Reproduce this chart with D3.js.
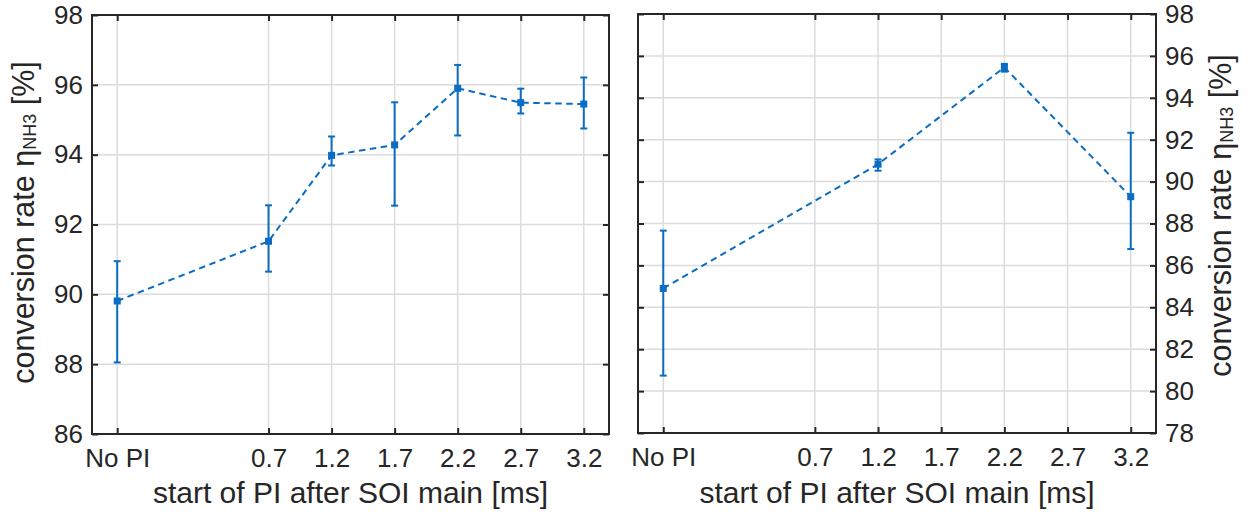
<!DOCTYPE html>
<html>
<head>
<meta charset="utf-8">
<script src="https://cdn.jsdelivr.net/npm/d3@7"></script>
<style>
  html, body { margin: 0; padding: 0; background: #fff; }
  svg { display: block; font-family: "Liberation Sans", Arial, sans-serif; }
</style>
</head>
<body>
<svg id="chart" width="1248" height="512"></svg>
<script>
// Shared x categories: start of post injection (PI) after main SOI
const tickValues = [-0.5, 0.7, 1.2, 1.7, 2.2, 2.7, 3.2];
const tickLabels = ["No PI", "0.7", "1.2", "1.7", "2.2", "2.7", "3.2"];

// Left panel: conversion rate with error bars
const leftX     = [-0.5, 0.7, 1.2, 1.7, 2.2, 2.7, 3.2];
const leftMean  = [89.81, 91.52, 93.98, 94.28, 95.90, 95.49, 95.45];
const leftLow   = [88.05, 90.65, 93.69, 92.54, 94.55, 95.18, 94.75];
const leftHigh  = [90.95, 92.55, 94.52, 95.50, 96.57, 95.89, 96.21];
const leftYTicks = [86, 88, 90, 92, 94, 96, 98];

// Right panel
const rightX    = [-0.5, 1.2, 2.2, 3.2];
const rightMean = [84.90, 90.83, 95.45, 89.28];
const rightLow  = [80.74, 90.52, 95.25, 86.78];
const rightHigh = [87.66, 91.06, 95.62, 92.33];
const rightYTicks = [78, 80, 82, 84, 86, 88, 90, 92, 94, 96, 98];

const xDomain = [-0.7, 3.4];
const ink = "#262626";
const lineColor = "#0b6cc4";
const gridColor = "#dcdcdc";
const tickFont = 26;
const labelFont = 30;
const yLabelFont = 30.5;
const tickLen = 6;

const svg = d3.select("#chart");

function drawPanel(opt) {
  const { left, right, top, bottom, yDomain, yTicks, xs, mean, low, high, yAxisSide } = opt;
  const x = d3.scaleLinear().domain(xDomain).range([left, right]);
  const y = d3.scaleLinear().domain(yDomain).range([bottom, top]);
  const g = svg.append("g");

  // grid
  g.append("g").selectAll("line").data(tickValues).join("line")
    .attr("x1", d => x(d)).attr("x2", d => x(d))
    .attr("y1", top).attr("y2", bottom)
    .attr("stroke", gridColor).attr("stroke-width", 1.5);
  g.append("g").selectAll("line").data(yTicks).join("line")
    .attr("x1", left).attr("x2", right)
    .attr("y1", d => y(d)).attr("y2", d => y(d))
    .attr("stroke", gridColor).attr("stroke-width", 1.5);

  // axes with inward ticks, box on all sides
  const fmtX = (d, i) => tickLabels[i];
  const bottomAxis = d3.axisBottom(x).tickValues(tickValues).tickFormat(fmtX)
    .tickSizeInner(-tickLen).tickSizeOuter(0).tickPadding(15);
  const topAxis = d3.axisTop(x).tickValues(tickValues).tickFormat("")
    .tickSizeInner(-tickLen).tickSizeOuter(0);
  const leftAxis = d3.axisLeft(y).tickValues(yTicks)
    .tickFormat(yAxisSide === "left" ? d3.format("d") : "")
    .tickSizeInner(-tickLen).tickSizeOuter(0).tickPadding(9);
  const rightAxis = d3.axisRight(y).tickValues(yTicks)
    .tickFormat(yAxisSide === "right" ? d3.format("d") : "")
    .tickSizeInner(-tickLen).tickSizeOuter(0).tickPadding(9);

  const axes = [
    g.append("g").attr("transform", `translate(0,${bottom})`).call(bottomAxis),
    g.append("g").attr("transform", `translate(0,${top})`).call(topAxis),
    g.append("g").attr("transform", `translate(${left},0)`).call(leftAxis),
    g.append("g").attr("transform", `translate(${right},0)`).call(rightAxis)
  ];
  axes.forEach(a => {
    a.select(".domain").remove();
    a.selectAll(".tick line").attr("stroke", ink).attr("stroke-width", 2);
    a.selectAll(".tick text").attr("fill", ink)
      .style("font-size", tickFont + "px").style("font-family", "Liberation Sans, Arial, sans-serif");
  });

  // box
  g.append("rect").attr("x", left).attr("y", top)
    .attr("width", right - left).attr("height", bottom - top)
    .attr("fill", "none").attr("stroke", ink).attr("stroke-width", 2);

  // dashed connecting line
  const pts = xs.map((v, i) => [v, mean[i]]);
  g.append("path").datum(pts)
    .attr("d", d3.line().x(d => x(d[0])).y(d => y(d[1])))
    .attr("fill", "none").attr("stroke", lineColor)
    .attr("stroke-width", 2).attr("stroke-dasharray", "6.5,4.5");

  // error bars
  const eb = g.append("g").attr("stroke", lineColor).attr("stroke-width", 2);
  xs.forEach((v, i) => {
    const cx = x(v);
    eb.append("line").attr("x1", cx).attr("x2", cx).attr("y1", y(low[i])).attr("y2", y(high[i]));
    eb.append("line").attr("x1", cx - 3.5).attr("x2", cx + 3.5).attr("y1", y(low[i])).attr("y2", y(low[i]));
    eb.append("line").attr("x1", cx - 3.5).attr("x2", cx + 3.5).attr("y1", y(high[i])).attr("y2", y(high[i]));
  });

  // square markers
  g.append("g").selectAll("rect").data(pts).join("rect")
    .attr("x", d => x(d[0]) - 3.5).attr("y", d => y(d[1]) - 3.5)
    .attr("width", 7).attr("height", 7).attr("fill", lineColor);

  // x label
  g.append("text")
    .attr("x", (left + right) / 2).attr("y", 503)
    .attr("text-anchor", "middle").attr("fill", ink)
    .style("font-size", labelFont + "px")
    .text("start of PI after SOI main [ms]");

  // y label with subscript
  const lx = opt.yLabelX, ly = (top + bottom) / 2 + opt.yLabelShift;
  const t = g.append("text")
    .attr("transform", `translate(${lx},${ly}) rotate(-90)`)
    .attr("text-anchor", "middle").attr("fill", ink)
    .style("font-size", yLabelFont + "px");
  t.append("tspan").text("conversion rate η");
  t.append("tspan").attr("dy", 2).style("font-size", "18px").text("NH3");
  t.append("tspan").attr("dy", -2).text(" [%]");
}

drawPanel({
  left: 92, right: 609, top: 15, bottom: 434,
  yDomain: [86, 98], yTicks: leftYTicks,
  xs: leftX, mean: leftMean, low: leftLow, high: leftHigh,
  yAxisSide: "left", yLabelX: 34, yLabelShift: -2
});

drawPanel({
  left: 638, right: 1156, top: 14, bottom: 433,
  yDomain: [78, 98], yTicks: rightYTicks,
  xs: rightX, mean: rightMean, low: rightLow, high: rightHigh,
  yAxisSide: "right", yLabelX: 1231, yLabelShift: -8
});
</script>
</body>
</html>
